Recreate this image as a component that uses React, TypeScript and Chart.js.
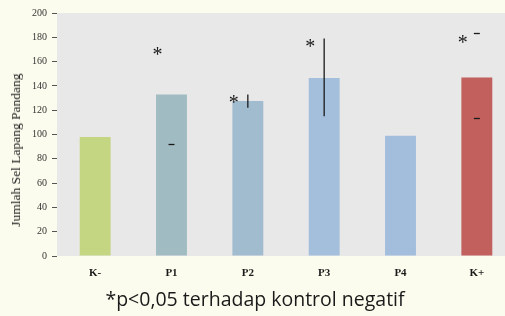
import React, { useEffect, useRef } from "react";
import { Chart, registerables } from "chart.js";

Chart.register(...registerables);

const categories = ["K-", "P1", "P2", "P3", "P4", "K+"];
const values = [98, 133, 127.5, 146.5, 99, 147];
const barColors = ["#c4d681", "#a0bcc2", "#a2bccf", "#a3bfdb", "#a3bedd", "#c2605d"];
const errLow: (number | null)[] = [null, 92, 122, 115, null, 113.5];
const errHigh: (number | null)[] = [null, null, 133, 179, null, 183.5];
const errStem = [false, false, true, true, false, false];
const sigValues: (number | null)[] = [null, 168, 129, 174.5, null, 178];
const yTicks = [0, 20, 40, 60, 80, 100, 120, 140, 160, 180, 200];
const yTitle = "Jumlah Sel Lapang Pandang";
const caption = "*p<0,05 terhadap kontrol negatif";

const bgPlugin = {
  id: "plotBg",
  beforeDraw(chart: any) {
    const { ctx, chartArea } = chart;
    ctx.save();
    ctx.fillStyle = "#e8e8e8";
    ctx.fillRect(chartArea.left, chartArea.top, chartArea.right - chartArea.left, chartArea.bottom - chartArea.top);
    ctx.restore();
  },
};

const errPlugin = {
  id: "errStars",
  afterDatasetsDraw(chart: any) {
    const { ctx } = chart;
    const y = chart.scales.y;
    const meta = chart.getDatasetMeta(0);
    ctx.save();
    ctx.strokeStyle = "#1a1a1a";
    ctx.lineWidth = 1.3;
    meta.data.forEach((bar: any, i: number) => {
      const x = bar.x;
      const lo = errLow[i];
      const hi = errHigh[i];
      if (errStem[i] && lo != null && hi != null) {
        ctx.beginPath();
        ctx.moveTo(x, y.getPixelForValue(lo));
        ctx.lineTo(x, y.getPixelForValue(hi));
        ctx.stroke();
      } else {
        [lo, hi].forEach((v) => {
          if (v == null) return;
          const py = Math.round(y.getPixelForValue(v)) + 0.5;
          ctx.beginPath();
          ctx.moveTo(x - 3, py);
          ctx.lineTo(x + 3, py);
          ctx.stroke();
        });
      }
      const s = sigValues[i];
      if (s != null) {
        ctx.fillStyle = "#1a1a1a";
        ctx.font = "20px 'Liberation Serif', serif";
        ctx.textAlign = "center";
        ctx.textBaseline = "middle";
        ctx.fillText("*", x - 14, y.getPixelForValue(s) + 4);
      }
    });
    ctx.restore();
  },
};

export default function App() {
  const ref = useRef<HTMLCanvasElement>(null);
  useEffect(() => {
    document.body.style.margin = "0";
    const chart = new Chart(ref.current!, {
      type: "bar",
      data: {
        labels: categories,
        datasets: [
          {
            data: values,
            backgroundColor: barColors,
            borderWidth: 0,
            categoryPercentage: 1,
            barPercentage: 0.405,
          },
        ],
      },
      options: {
        responsive: false,
        animation: false,
        layout: { padding: { top: 13, left: 0, right: 5, bottom: 36 } },
        plugins: { legend: { display: false }, tooltip: { enabled: false } },
        scales: {
          x: {
            grid: { display: false },
            border: { display: false },
            ticks: {
              color: "#1a1a1a",
              padding: 3,
              font: { family: "'Liberation Serif', serif", size: 11, weight: "bold" },
            },
            afterFit: (s: any) => {
              s.height = 24;
            },
          },
          y: {
            min: 0,
            max: 200,
            afterBuildTicks: (s: any) => {
              s.ticks = yTicks.map((v) => ({ value: v }));
            },
            grid: { drawOnChartArea: false, drawTicks: true, tickLength: 5, color: "#555", lineWidth: 1 },
            border: { display: false },
            ticks: {
              color: "#333",
              padding: 5,
              font: { family: "'Liberation Serif', serif", size: 10 },
            },
            afterFit: (s: any) => {
              s.width = 57;
            },
          },
        },
      },
      plugins: [bgPlugin, errPlugin],
    });
    return () => chart.destroy();
  }, []);
  return (
    <div
      style={{
        position: "absolute",
        left: 0,
        top: 0,
        width: 505,
        height: 316,
        overflow: "hidden",
        background: "#fcfcee",
      }}
    >
      <canvas ref={ref} width={520} height={316} style={{ position: "absolute", left: 0, top: 0 }} />
      <div
        style={{
          position: "absolute",
          left: 16,
          top: 150,
          transform: "translate(-50%, -50%) rotate(-90deg)",
          whiteSpace: "nowrap",
          fontFamily: "'Liberation Serif', serif",
          fontSize: 13.5,
          color: "#222",
        }}
      >
        {yTitle}
      </div>
      <div
        style={{
          position: "absolute",
          left: 0,
          width: 510,
          top: 285,
          textAlign: "center",
          fontFamily: "'Open Sans', sans-serif",
          fontSize: 19.5,
          color: "#1a1a1a",
        }}
      >
        {caption}
      </div>
    </div>
  );
}
